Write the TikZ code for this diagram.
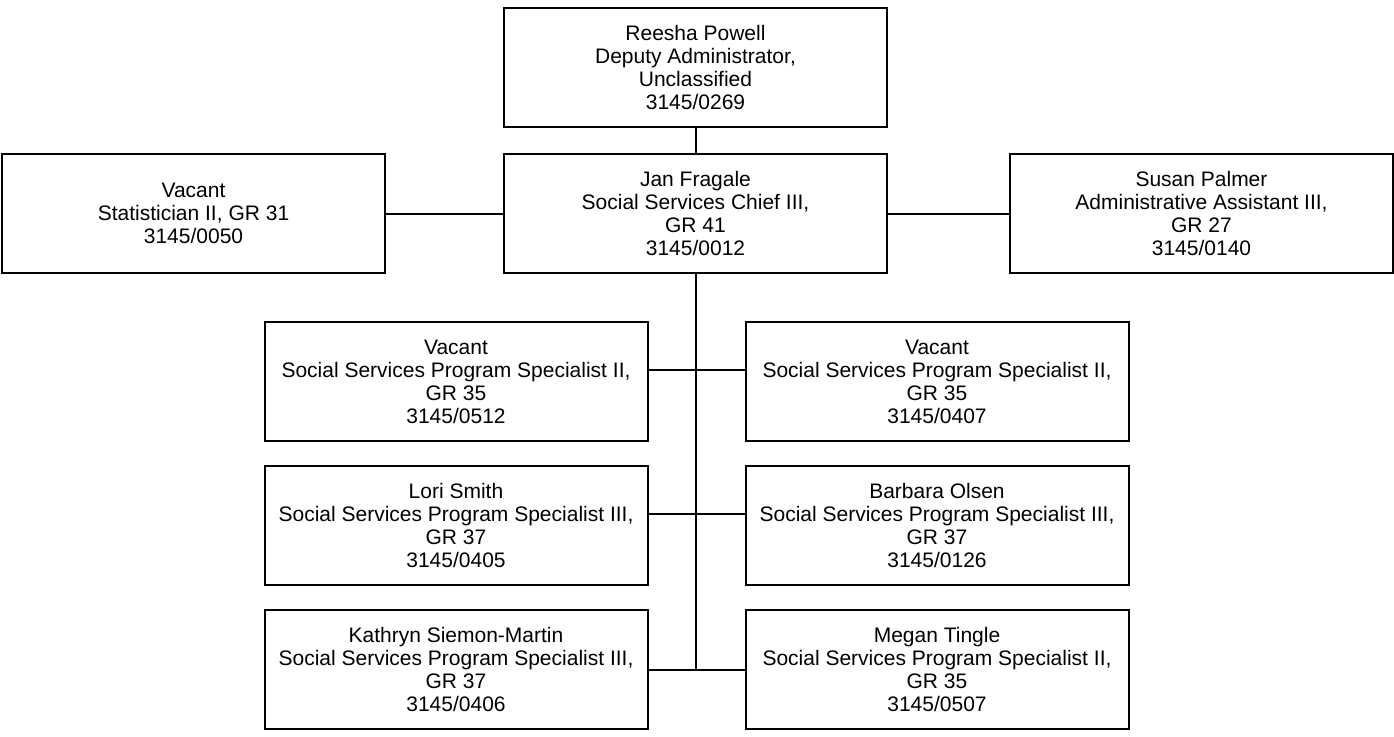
\documentclass[tikz,border=0pt]{standalone}
\usepackage{fontspec}
\setmainfont{Liberation Sans}
\usepackage{tikz}
\usetikzlibrary{positioning}
\tikzstyle{post} = [rectangle, minimum width=191.5pt, minimum height=59.5pt, align=center, draw=black, line width=1pt, font=\fontsize{10.5pt}{11.5pt}\selectfont]
\tikzstyle{line} = [line width=1pt]

\begin{document}
\begin{tikzpicture}[node distance=12pt]
\useasboundingbox (0,0) rectangle (697pt,-368pt);
\node (powell) [post] at (347.75pt,-33.75pt) {Reesha Powell\\Deputy Administrator,\\Unclassified\\3145/0269};
\node (fragale) [post, below=12.5pt of powell] {Jan Fragale\\Social Services Chief III,\\GR 41\\3145/0012};
\node (stat) [post, left=58.5pt of fragale] {Vacant\\Statistician II, GR 31\\3145/0050};
\node (palmer) [post, right=60.5pt of fragale] {Susan Palmer\\Administrative Assistant III,\\GR 27\\3145/0140};
\node (l1) [post, below=23.5pt of fragale, xshift=-119.75pt] {Vacant\\Social Services Program Specialist II,\\GR 35\\3145/0512};
\node (r1) [post, below=23.5pt of fragale, xshift=120.75pt] {Vacant\\Social Services Program Specialist II,\\GR 35\\3145/0407};
\node (l2) [post, below of=l1, yshift=-60pt] {Lori Smith\\Social Services Program Specialist III,\\GR 37\\3145/0405};
\node (r2) [post, below of=r1, yshift=-60pt] {Barbara Olsen\\Social Services Program Specialist III,\\GR 37\\3145/0126};
\node (l3) [post, below of=l2, yshift=-60pt] {Kathryn Siemon-Martin\\Social Services Program Specialist III,\\GR 37\\3145/0406};
\node (r3) [post, below of=r2, yshift=-60pt] {Megan Tingle\\Social Services Program Specialist II,\\GR 35\\3145/0507};

\draw [line] (powell) -- (fragale);
\draw [line] (stat) -- (fragale);
\draw [line] (fragale) -- (palmer);
\draw [line] (fragale.south) -- (fragale.south |- l3.east);
\draw [line] ([yshift=6pt]l1.east) -- ([yshift=6pt]r1.west);
\draw [line] ([yshift=6pt]l2.east) -- ([yshift=6pt]r2.west);
\draw [line] (l3) -- (r3);

\end{tikzpicture}
\end{document}
